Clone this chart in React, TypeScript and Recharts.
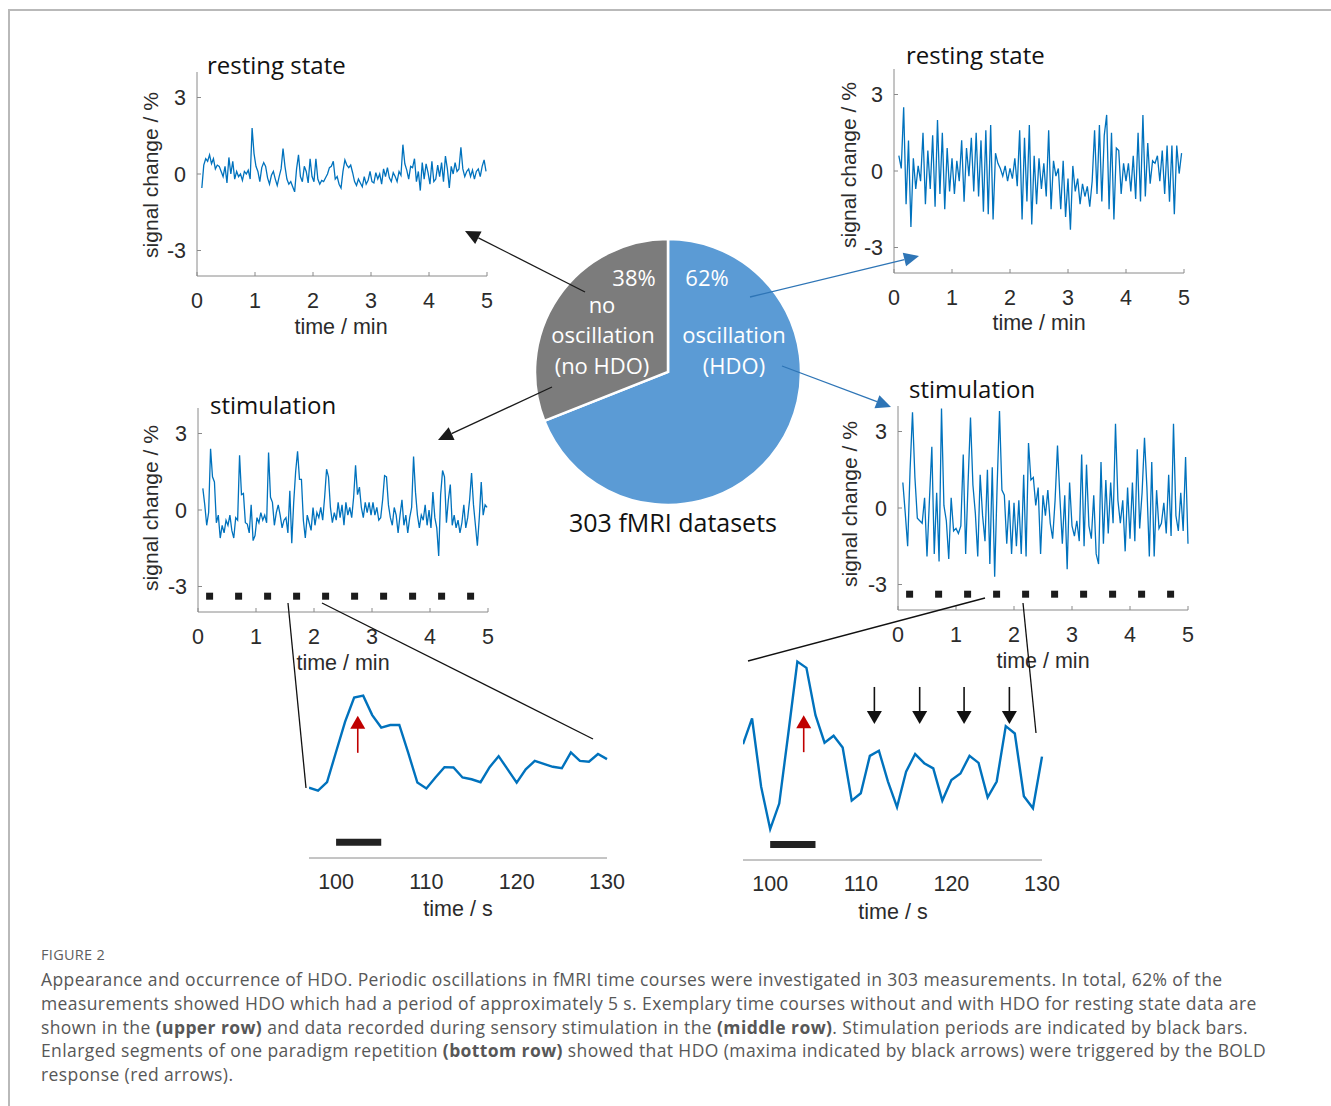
import { ComposedChart, Line, Scatter, XAxis, YAxis, PieChart, Pie, Cell } from 'recharts';

// ── Data ─────────────────────────────────────────────────────────────────────
const MIN_TICKS = [0, 1, 2, 3, 4, 5];
const SIG_TICKS = [-3, 0, 3];
const SEC_TICKS = [100, 110, 120, 130];

// stimulation onsets (min) and where their markers sit (% signal)
const STIM_ONSETS = [0.2, 0.7, 1.2, 1.7, 2.2, 2.7, 3.2, 3.7, 4.2, 4.7];
const STIM_MARK_LEVEL = -3.38;

// resting state, no HDO — one sample every 2 s from t = 5 s
const REST_NO_HDO = [
  -0.55, 0.35, 0.6, 0.5, 0.75, 0.4, 0.6, 0.2, 0.35, 0.3,
  0.1, -0.1, 0.3, -0.35, 0.65, 0.0, 0.5, -0.2, 0.1, -0.1,
  0.0, -0.25, 0.1, 0.0, 0.15, -0.2, 1.8, 0.8, 0.3, 0.1,
  -0.3, 0.25, 0.45, 0.3, -0.15, -0.4, -0.05, 0.1, -0.2, -0.45,
  -0.1, 0.2, 1.0, 0.3, -0.2, -0.4, -0.3, -0.5, -0.7, 0.2,
  0.75, -0.1, -0.3, 0.3, 0.1, -0.35, 0.6, -0.1, -0.3, 0.6,
  -0.2, -0.4, -0.25, -0.3, -0.15, 0.0, 0.25, 0.3, 0.5, -0.2,
  -0.1, -0.4, -0.55, 0.1, 0.55, 0.35, 0.25, 0.35, 0.05, -0.3,
  -0.45, -0.2, -0.35, -0.5, -0.1, -0.4, -0.25, 0.1, -0.3, -0.35,
  0.05, -0.2, 0.0, -0.4, 0.2, -0.1, 0.25, -0.15, -0.3, 0.05,
  -0.1, -0.3, 0.1, -0.05, 1.15, 0.4, 0.15, -0.2, 0.3, 0.25,
  0.6, -0.3, 0.1, -0.65, 0.45, -0.2, 0.4, 0.05, -0.4, 0.5,
  -0.3, -0.2, 0.35, -0.1, 0.45, -0.3, 0.7, 0.2, -0.55, 0.3,
  0.0, 0.45, 0.1, 0.2, 1.05, 0.2, -0.1, 0.1, 0.2, -0.1,
  0.15, -0.2, 0.1, 0.2, -0.1, 0.3, 0.55, 0.1,
];

// resting state, HDO — one sample every 2.5 s from t = 5 s
const REST_HDO = [
  0.6, 0.1, 2.5, -1.3, 1.2, -2.2, 0.5, -0.7, 0.2, -0.4,
  1.5, -1.3, 0.8, -0.7, 1.4, -1.4, 2.0, -0.9, 1.5, -1.5,
  0.9, -0.8, 0.5, -0.9, 0.4, -0.4, 1.2, -1.2, 0.9, -0.2,
  1.3, -0.8, 1.5, -1.0, 1.2, -1.6, 1.6, -1.7, 1.8, -1.9,
  0.7, 0.3, 0.1, -0.2, 0.2, -0.4, 0.1, -0.3, 0.5, -0.6,
  1.6, -1.9, 1.3, -1.2, 1.8, -2.1, 0.6, -1.3, 0.5, -0.7,
  0.3, -1.0, 1.6, -1.5, 0.4, -0.2, 0.1, -1.5, 0.4, -1.8,
  -0.3, -2.3, 0.2, -0.8, -0.3, -1.3, -0.5, -1.0, -0.6, -1.4,
  -0.4, 1.6, -0.9, 1.8, -1.2, 1.4, 2.2, -1.5, 1.5, -1.9,
  0.9, 0.8, -0.9, 0.3, -0.4, 0.3, -0.8, 0.6, -1.1, 1.5,
  -1.2, 2.2, -1.0, 1.1, -0.5, 0.4, 0.3, 0.6, -0.4, 0.8,
  -0.9, 1.0, -1.2, 1.0, -1.7, 1.0, -0.1, 0.7,
];

// stimulation, no HDO — one sample every 2 s from t = 5 s
const STIM_NO_HDO = [
  0.85, 0.2, -0.6, -0.1, 2.4, 1.3, 1.1, -0.5, -0.2, -1.1,
  -0.6, -0.9, -0.4, -0.6, -0.2, -0.8, -1.1, -0.3, -0.4, 2.15,
  0.6, 0.65, -0.5, -0.55, -0.9, 0.2, -1.2, -1.0, -0.3, -0.5,
  -0.1, -0.4, -0.2, -0.5, 2.25, 0.5, 0.3, -0.6, -0.1, 0.2,
  -0.2, -0.7, -0.4, -0.3, -0.9, 0.75, -1.3, 0.3, 1.5, 2.3,
  1.2, 1.2, -0.4, -1.1, -0.2, -0.5, -0.8, 0.1, -0.6, -0.1,
  -0.3, 0.1, -0.4, 0.5, 1.6, 1.3, 0.1, -0.5, -0.1, -0.4,
  0.3, -0.3, 0.2, -0.6, 0.3, -0.2, 0.1, -0.3, 0.5, 1.75,
  0.6, 0.9, 0.1, -0.3, 0.3, -0.1, 0.3, -0.2, 0.3, -0.2,
  0.1, -0.4, -0.3, 0.4, 1.35, 1.3, 0.2, -0.3, -0.6, 0.1,
  -0.2, -0.9, -0.2, 0.4, -0.6, -0.2, -0.9, -0.3, 0.1, 2.1,
  0.7, -0.2, -0.7, -0.2, -0.4, 0.2, -0.6, 0.0, -0.7, 0.7,
  -0.3, -0.7, -1.8, 0.6, 1.55, 1.3, -0.5, 0.4, 1.0, -0.6,
  -0.2, -0.7, -0.4, -0.9, -0.5, 0.2, -0.7, -0.3, 0.4, 1.45,
  0.2, -0.6, -1.4, -0.3, 1.1, -0.2, 0.2, 0.1,
];

// stimulation, HDO — one sample every 2.5 s from t = 5 s
const STIM_HDO = [
  1.0, -0.2, -1.5, 1.5, 3.75, 1.2, -0.4, -0.5, -0.6, 0.4,
  -1.9, 0.3, 2.4, -1.8, 0.6, -2.1, 3.9, 0.1, -0.5, -2.0,
  0.4, -0.9, -0.8, -1.0, -0.7, 2.1, -1.8, 1.0, 3.55, 0.9,
  -0.2, -1.9, 1.3, -0.3, -1.3, 1.5, -2.2, 1.6, -2.7, 0.8,
  3.8, 0.7, 0.5, -1.4, 0.3, -1.8, 0.2, -1.5, 0.3, -1.8,
  1.3, -1.9, 2.55, 1.1, 1.2, 0.1, 0.8, -1.8, 0.5, -0.3,
  0.7, -0.6, -1.2, 0.3, 2.45, 0.4, -1.4, 0.5, -2.4, 1.0,
  -0.7, -1.1, -0.5, -1.3, 2.1, -1.5, 1.7, -0.7, -1.2, 0.5,
  -1.8, -2.2, 1.8, -1.4, 1.1, -1.0, 1.0, -0.6, 3.3, 0.3,
  -0.6, 0.3, -1.7, 0.8, -1.2, 1.0, -1.3, 2.3, -0.8, 0.6,
  2.75, 0.8, -1.9, 1.8, -1.9, 0.7, -0.8, -0.6, 0.2, -1.0,
  1.3, -1.1, 3.3, -0.3, -0.9, 0.6, -0.9, 2.0, -1.4,
];

// enlarged segment of one paradigm repetition (1 s sampling)
const ZOOM_TIME = [
  97, 98, 99, 100, 101, 102, 103, 104, 105, 106, 107, 108, 109, 110, 111, 112, 113,
  114, 115, 116, 117, 118, 119, 120, 121, 122, 123, 124, 125, 126, 127, 128, 129, 130,
];
const ZOOM_NO_HDO = [
  -0.21, -0.29, -0.06, 0.77, 1.59, 2.25, 2.3, 1.77, 1.43, 1.5, 1.5, 0.73, -0.07, -0.23, 0.07, 0.35, 0.34,
  0.07, 0.02, -0.06, 0.35, 0.65, 0.29, -0.07, 0.29, 0.52, 0.44, 0.36, 0.32, 0.75, 0.52, 0.5, 0.71, 0.57,
];
const ZOOM_HDO = [
  1.07, 1.77, -0.09, -1.25, -0.55, 1.36, 3.32, 3.15, 1.86, 1.11, 1.3, 0.98, -0.47, -0.27, 0.75, 0.89, 0.05,
  -0.65, 0.32, 0.8, 0.55, 0.41, -0.47, 0.09, 0.27, 0.75, 0.56, -0.38, 0.05, 1.56, 1.36, -0.35, -0.68, 0.73,
];
const STIM_BLOCK = [100, 105];
const BLOCK_LEVEL_NO_HDO = -1.7;
const BLOCK_LEVEL_HDO = -1.67;

// arrows in the enlarged segments: time (s) of the arrow tip
const BOLD_ARROW_NO_HDO = [102.4];
const BOLD_ARROW_HDO = [103.7];
const HDO_MAXIMA = [111.5, 116.5, 121.4, 126.4];

// pie shares as drawn (labels printed separately)
const PIE_NAMES = ['oscillation (HDO)', 'no oscillation (no HDO)'];
const PIE_SHARES = [69, 31];
const PIE_COLORS = ['#5b9bd5', '#7c7c7c'];

// ── Styling ──────────────────────────────────────────────────────────────────
const BLUE = '#0072bd';
const AXIS = '#8a8a8a';
const TICK = { fontSize: 21.5, fill: '#2b2b2b', fontFamily: '"Liberation Sans", Arial, sans-serif' };
const SANS = '"Open Sans", "Noto Sans", sans-serif';
const LABEL_FONT = '"Liberation Sans", Arial, sans-serif';

const YW = 60;
const MT = 4;
const MR = 10;
const XH = 44;
const PLOT_W = 290;
const PLOT_H = 204;
const ZOOM_MR = 30;

const sampled = (values: number[], step: number) =>
  values.map((v, i) => ({ t: (5 + i * step) / 60, v }));

function StimMark(props: any) {
  const { cx, cy } = props;
  return <rect x={cx - 3.5} y={cy - 3.5} width={7} height={7} fill="#1c1c1c" />;
}

function UpArrow(props: any) {
  const { cx, cy } = props;
  return (
    <g>
      <line x1={cx} y1={cy + 37} x2={cx} y2={cy + 12} stroke="#c00000" strokeWidth={1.6} />
      <polygon points={`${cx},${cy} ${cx - 7.5},${cy + 13} ${cx + 7.5},${cy + 13}`} fill="#c00000" />
    </g>
  );
}

function DownArrow(props: any) {
  const { cx, cy } = props;
  return (
    <g>
      <line x1={cx} y1={cy - 37} x2={cx} y2={cy - 12} stroke="#111" strokeWidth={1.6} />
      <polygon points={`${cx},${cy} ${cx - 7.5},${cy - 13} ${cx + 7.5},${cy - 13}`} fill="#111" />
    </g>
  );
}

// ── Panels ───────────────────────────────────────────────────────────────────
function SignalPanel({ left, top, data, stim }: { left: number; top: number; data: { t: number; v: number }[]; stim?: boolean }) {
  return (
    <div style={{ position: 'absolute', left: left - YW, top: top - MT }}>
      <ComposedChart width={YW + PLOT_W + MR} height={MT + PLOT_H + XH} margin={{ top: MT, right: MR, left: 0, bottom: 0 }}>
        <XAxis
          type="number"
          dataKey="t"
          domain={[0, 5]}
          ticks={MIN_TICKS}
          interval={0}
          height={XH}
          tickSize={-4}
          tickMargin={21}
          stroke={AXIS}
          tick={TICK}
        />
        <YAxis
          type="number"
          domain={[-4, 4]}
          ticks={SIG_TICKS}
          interval={0}
          width={YW}
          tickSize={-4}
          tickMargin={15}
          stroke={AXIS}
          tick={TICK}
        />
        <Line data={data} dataKey="v" stroke={BLUE} strokeWidth={1.3} dot={false} isAnimationActive={false} />
        {stim && (
          <Scatter
            data={STIM_ONSETS.map((t) => ({ t, s: STIM_MARK_LEVEL }))}
            dataKey="s"
            shape={StimMark}
            isAnimationActive={false}
          />
        )}
      </ComposedChart>
    </div>
  );
}

function ZoomPanel({
  left, top, width, height, domain, values, blockLevel, boldArrow, boldLevel, maxima,
}: {
  left: number; top: number; width: number; height: number; domain: [number, number];
  values: number[]; blockLevel: number; boldArrow: number[]; boldLevel: number; maxima?: number[];
}) {
  const data = ZOOM_TIME.map((t, i) => ({ t, v: values[i] }));
  return (
    <div style={{ position: 'absolute', left, top }}>
      <ComposedChart width={width + ZOOM_MR} height={height + XH} margin={{ top: 0, right: ZOOM_MR, left: 0, bottom: 0 }}>
        <XAxis
          type="number"
          dataKey="t"
          domain={[97, 130]}
          ticks={SEC_TICKS}
          interval={0}
          height={XH}
          tickSize={0}
          tickMargin={16}
          stroke={AXIS}
          tick={TICK}
        />
        <YAxis type="number" domain={domain} hide />
        <Line
          data={STIM_BLOCK.map((t) => ({ t, b: blockLevel }))}
          dataKey="b"
          stroke="#222"
          strokeWidth={7}
          strokeLinecap="butt"
          dot={false}
          isAnimationActive={false}
        />
        <Line data={data} dataKey="v" stroke={BLUE} strokeWidth={2.4} dot={false} isAnimationActive={false} />
        <Scatter data={boldArrow.map((t) => ({ t, a: boldLevel }))} dataKey="a" shape={UpArrow} isAnimationActive={false} />
        {maxima && (
          <Scatter data={maxima.map((t) => ({ t, m: 1.62 }))} dataKey="m" shape={DownArrow} isAnimationActive={false} />
        )}
      </ComposedChart>
    </div>
  );
}

function Arrow({ from, to, color }: { from: [number, number]; to: [number, number]; color: string }) {
  const dx = to[0] - from[0];
  const dy = to[1] - from[1];
  const len = Math.hypot(dx, dy);
  const ux = dx / len;
  const uy = dy / len;
  const bx = to[0] - ux * 15;
  const by = to[1] - uy * 15;
  const pts = `${to[0]},${to[1]} ${bx - uy * 7},${by + ux * 7} ${bx + uy * 7},${by - ux * 7}`;
  return (
    <g>
      <line x1={from[0]} y1={from[1]} x2={bx} y2={by} stroke={color} strokeWidth={1.3} />
      <polygon points={pts} fill={color} />
    </g>
  );
}

function YTitle({ x, y }: { x: number; y: number }) {
  return (
    <text x={x} y={y} transform={`rotate(-90 ${x} ${y})`} textAnchor="middle" fontSize={21} fontFamily={LABEL_FONT} fill="#2b2b2b">
      signal change / %
    </text>
  );
}

function XTitle({ x, y, text }: { x: number; y: number; text: string }) {
  return (
    <text x={x} y={y} textAnchor="middle" fontSize={21.5} fontFamily={LABEL_FONT} fill="#2b2b2b">
      {text}
    </text>
  );
}

function PanelTitle({ x, y, text }: { x: number; y: number; text: string }) {
  return (
    <text x={x} y={y} fontSize={24} fontFamily={SANS} fill="#111">
      {text}
    </text>
  );
}

const CAPTION_LINES = [
  [{ t: 'Appearance and occurrence of HDO. Periodic oscillations in fMRI time courses were investigated in 303 measurements. In total, 62% of the' }],
  [{ t: 'measurements showed HDO which had a period of approximately 5 s. Exemplary time courses without and with HDO for resting state data are' }],
  [
    { t: 'shown in the ' },
    { t: '(upper row)', b: true },
    { t: ' and data recorded during sensory stimulation in the ' },
    { t: '(middle row)', b: true },
    { t: '. Stimulation periods are indicated by black bars.' },
  ],
  [
    { t: 'Enlarged segments of one paradigm repetition ' },
    { t: '(bottom row)', b: true },
    { t: ' showed that HDO (maxima indicated by black arrows) were triggered by the BOLD' },
  ],
  [{ t: 'response (red arrows).' }],
];

export default function App() {
  const pieData = PIE_NAMES.map((name, i) => ({ name, value: PIE_SHARES[i] }));
  return (
    <div style={{ position: 'absolute', left: 0, top: 0, width: 1331, height: 1106, background: '#fff', overflow: 'hidden' }}>
      {/* frame */}
      <div style={{ position: 'absolute', left: 8, top: 9, width: 1400, height: 1200, borderTop: '2px solid #b9b9b9', borderLeft: '2px solid #b9b9b9' }} />

      <SignalPanel left={196.7} top={72} data={sampled(REST_NO_HDO, 2)} />
      <SignalPanel left={894.3} top={69} data={sampled(REST_HDO, 2.5)} />
      <SignalPanel left={197.7} top={408} data={sampled(STIM_NO_HDO, 2)} stim />
      <SignalPanel left={897.7} top={406.3} data={sampled(STIM_HDO, 2.5)} stim />

      <ZoomPanel
        left={309} top={680} width={298} height={178} domain={[-2.127, 2.727]}
        values={ZOOM_NO_HDO} blockLevel={BLOCK_LEVEL_NO_HDO} boldArrow={BOLD_ARROW_NO_HDO} boldLevel={1.75}
      />
      <ZoomPanel
        left={742.7} top={640} width={299} height={220} domain={[-2.09, 3.91]}
        values={ZOOM_HDO} blockLevel={BLOCK_LEVEL_HDO} boldArrow={BOLD_ARROW_HDO} boldLevel={1.86} maxima={HDO_MAXIMA}
      />

      <div style={{ position: 'absolute', left: 518, top: 222 }}>
        <PieChart width={300} height={300} margin={{ top: 0, right: 0, bottom: 0, left: 0 }}>
          <Pie
            data={pieData}
            dataKey="value"
            cx={150}
            cy={150}
            outerRadius={133}
            startAngle={90}
            endAngle={-270}
            stroke="#fff"
            strokeWidth={2.5}
            isAnimationActive={false}
          >
            {pieData.map((d, i) => (
              <Cell key={d.name} fill={PIE_COLORS[i]} />
            ))}
          </Pie>
        </PieChart>
      </div>

      <svg width={1331} height={1106} style={{ position: 'absolute', left: 0, top: 0, pointerEvents: 'none' }}>
        <PanelTitle x={207} y={74} text="resting state" />
        <PanelTitle x={906} y={64} text="resting state" />
        <PanelTitle x={210} y={414} text="stimulation" />
        <PanelTitle x={909} y={398} text="stimulation" />

        <YTitle x={158} y={175} />
        <YTitle x={856} y={165} />
        <YTitle x={158} y={508} />
        <YTitle x={857} y={504} />

        <XTitle x={341} y={334} text="time / min" />
        <XTitle x={1039} y={330} text="time / min" />
        <XTitle x={343} y={670} text="time / min" />
        <XTitle x={1043} y={668} text="time / min" />
        <XTitle x={458} y={916} text="time / s" />
        <XTitle x={893} y={919} text="time / s" />

        {/* pie labels */}
        <g fontFamily={SANS} fontSize={22} fill="#fff" textAnchor="middle">
          <text x={634} y={286}>38%</text>
          <text x={602} y={313}>no</text>
          <text x={603} y={343}>oscillation</text>
          <text x={602} y={374}>(no HDO)</text>
          <text x={707} y={286}>62%</text>
          <text x={734} y={343}>oscillation</text>
          <text x={734} y={374}>(HDO)</text>
        </g>
        <text x={673} y={532} textAnchor="middle" fontFamily={SANS} fontSize={25} fill="#111">
          303 fMRI datasets
        </text>

        {/* arrows from the pie */}
        <Arrow from={[585, 292]} to={[465, 231]} color="#1a1a1a" />
        <Arrow from={[552, 387]} to={[438, 440]} color="#1a1a1a" />
        <Arrow from={[750, 297]} to={[919, 256]} color="#2e75b6" />
        <Arrow from={[782, 366]} to={[891, 407]} color="#2e75b6" />

        {/* zoom guide lines */}
        <g stroke="#111" strokeWidth={1.3}>
          <line x1={288} y1={603} x2={306} y2={788} />
          <line x1={322} y1={603} x2={593} y2={739} />
          <line x1={985} y1={598} x2={748} y2={661} />
          <line x1={1023} y1={603} x2={1036} y2={733} />
        </g>
      </svg>

      <div style={{ position: 'absolute', left: 41, top: 945, fontFamily: SANS, fontSize: 14.5, letterSpacing: 0.3, color: '#5e5e5e', lineHeight: '20px' }}>
        FIGURE 2
      </div>
      <div style={{ position: 'absolute', left: 41, top: 968, fontFamily: SANS, fontSize: 17.5, letterSpacing: 0.4, color: '#575757', lineHeight: '23.8px' }}>
        {CAPTION_LINES.map((line, i) => (
          <div key={i} style={{ whiteSpace: 'nowrap' }}>
            {line.map((seg, j) => (
              <span key={j} style={{ fontWeight: (seg as any).b ? 700 : 400 }}>{seg.t}</span>
            ))}
          </div>
        ))}
      </div>
    </div>
  );
}
